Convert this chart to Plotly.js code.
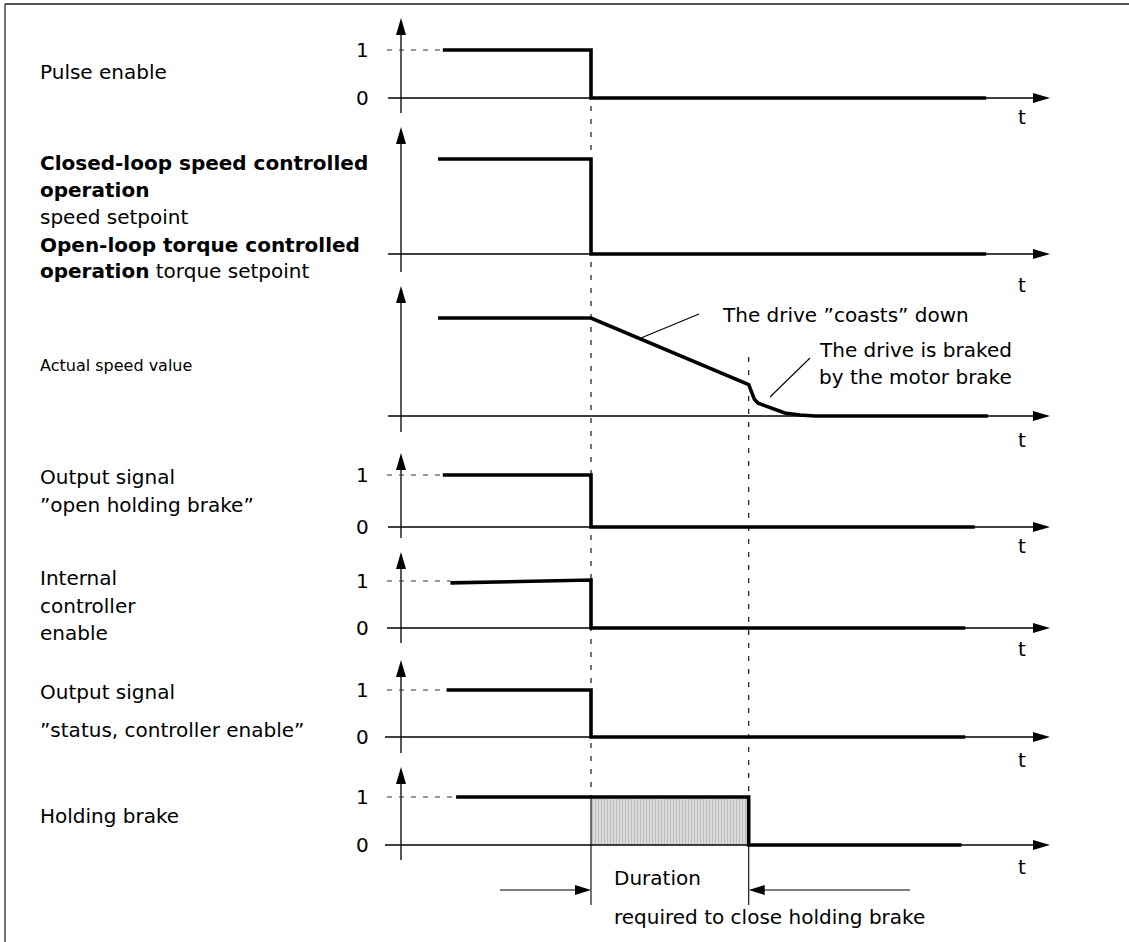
<!DOCTYPE html>
<html><head><meta charset="utf-8">
<script src="https://cdn.plot.ly/plotly-3.0.1.min.js"></script>
<style>html,body{margin:0;padding:0;background:#fff}#chart{width:1129px;height:942px}</style>
</head><body><div id="chart"></div>
<script>
// ---------------- data (time in arbitrary units, levels 0/1) ----------------
const pulseT      = [22, 100, 100, 308];
const pulseV      = [1, 1, 0, 0];
const setpointT   = [19.5, 100, 100, 308];
const setpointV   = [1, 1, 0, 0];
const speedT      = [19.5, 100, 183, 184.5, 186, 188, 192, 196, 202, 210, 218, 309];
const speedV      = [1, 1, 0.32, 0.24, 0.17, 0.13, 0.10, 0.07, 0.03, 0.01, 0, 0];
const openBrakeT  = [22, 100, 100, 302];
const openBrakeV  = [1, 1, 0, 0];
const ctrlEnableT = [26, 100, 100, 297];
const ctrlEnableV = [0.96, 1.02, 0, 0];
const statusT     = [24, 100, 100, 297];
const statusV     = [1, 1, 0, 0];
const holdingT    = [29, 183, 183, 295];
const holdingV    = [1, 1, 0, 0];
const pulseOffT   = 100;   // pulse enable removed
const brakeClosedT = 183;  // holding brake closed
const levelLabels = ['0', '1'];
const axisLabel   = 't';

const leftLabels = [
  'Pulse enable',
  '<b>Closed-loop speed controlled</b>',
  '<b>operation</b>',
  'speed setpoint',
  '<b>Open-loop torque controlled</b>',
  '<b>operation</b> torque setpoint',
  'Actual speed value',
  'Output signal',
  '\u201Dopen holding brake\u201D',
  'Internal',
  'controller',
  'enable',
  'Output signal',
  '\u201Dstatus, controller enable\u201D',
  'Holding brake'
];
const coastText  = 'The drive \u201Dcoasts\u201D down';
const brakedText = ['The drive is braked', 'by the motor brake'];
const durationText = ['Duration', 'required to close holding brake'];

// ---------------- layout geometry (pixels) ----------------
const W = 1129, H = 942, X0 = 401, PXT = 1.9;
const tOf = px => (px - X0) / PXT;
const pxOfT = t => X0 + t * PXT;
const yP = px => 1 - px / H;
const xP = px => px / W;
const FONT = 'DejaVu Sans, Arial, sans-serif';
const FS = 20;

const panels = [
  {band:[4,120],   l0:98,  l1:50,  tip:18,  axB:113, zs:388, tY:117, ticks:true},
  {band:[120,280], l0:254, l1:159, tip:127, axB:272, zs:388, tY:285, ticks:false},
  {band:[280,448], l0:416, l1:318, tip:286, axB:432, zs:388, tY:440, ticks:false},
  {band:[448,548], l0:527, l1:475, tip:453, axB:538, zs:388, tY:546, ticks:true},
  {band:[548,657], l0:628, l1:581, tip:552, axB:643, zs:387, tY:649, ticks:true},
  {band:[657,764], l0:737, l1:690, tip:660, axB:753, zs:385, tY:760, ticks:true},
  {band:[764,942], l0:845, l1:797, tip:767, axB:860, zs:385, tY:867, ticks:true}
];
const series = [
  [pulseT, pulseV], [setpointT, setpointV], [speedT, speedV],
  [openBrakeT, openBrakeV], [ctrlEnableT, ctrlEnableV], [statusT, statusV], [holdingT, holdingV]
];
const labelY = [72, 163, 190, 217, 245, 271, 365, 477, 505, 578, 606, 633, 692, 730, 816];
const labelSize = [FS, FS, FS, FS, FS, FS, 16, FS, FS, FS, FS, FS, FS, FS, FS];

const layout = {
  width: W, height: H, margin: {l:0, r:0, t:0, b:0},
  paper_bgcolor: '#fff', plot_bgcolor: 'rgba(0,0,0,0)', showlegend: false,
  xaxis: {domain:[0,1], range:[tOf(0), tOf(W)], visible:false, fixedrange:true, anchor:'y'},
  shapes: [], annotations: []
};
const traces = [];
const AX = {color:'#000', width:1.3};

panels.forEach((p, i) => {
  const yName = i === 0 ? 'y' : 'y' + (i + 1);
  const key = i === 0 ? 'yaxis' : 'yaxis' + (i + 1);
  const s = p.l0 - p.l1;
  const yv = px => (p.l0 - px) / s;
  layout[key] = {domain:[yP(p.band[1]), yP(p.band[0])], range:[yv(p.band[1]), yv(p.band[0])],
                 visible:false, fixedrange:true, anchor:'x'};
  const [T, V] = series[i];
  if (i === 6) {
    // shaded interval while the brake is closing
    traces.push({x:[pulseOffT, pulseOffT, brakeClosedT, brakeClosedT], y:[0, 1, 1, 0],
      xaxis:'x', yaxis:yName, mode:'lines', fill:'toself', fillcolor:'#d6d6d6',
      fillpattern:{shape:'|', fgcolor:'#bdbdbd', bgcolor:'#dadada', size:3, solidity:0.35},
      line:{width:0}, hoverinfo:'skip'});
  }
  traces.push({x:T, y:V, xaxis:'x', yaxis:yName, mode:'lines',
    line:{color:'#000', width:3.6}, hoverinfo:'skip'});

  // vertical axis with arrow
  layout.shapes.push({type:'line', xref:'x', yref:yName, x0:0, x1:0, y0:yv(p.axB), y1:yv(p.tip + 12), line:AX});
  layout.shapes.push({type:'path', xref:'x', yref:yName, fillcolor:'#000', line:{width:0},
    path:`M ${tOf(X0)},${yv(p.tip)} L ${tOf(X0 - 5)},${yv(p.tip + 17)} L ${tOf(X0 + 5)},${yv(p.tip + 17)} Z`});
  // time axis with arrow
  layout.shapes.push({type:'line', xref:'x', yref:yName, x0:tOf(p.zs), x1:tOf(1040), y0:0, y1:0, line:AX});
  layout.shapes.push({type:'path', xref:'x', yref:yName, fillcolor:'#000', line:{width:0},
    path:`M ${tOf(1050)},0 L ${tOf(1033)},${yv(p.l0 - 5)} L ${tOf(1033)},${yv(p.l0 + 5)} Z`});
  layout.annotations.push({xref:'paper', yref:'paper', x:xP(1022), y:yP(p.tY), text:axisLabel,
    showarrow:false, xanchor:'center', yanchor:'middle', font:{family:FONT, size:FS, color:'#000'}});
  if (p.ticks) {
    layout.shapes.push({type:'line', xref:'x', yref:yName, x0:tOf(387), x1:T[0], y0:1, y1:1,
      line:{color:'#333', width:1.2, dash:'5px,7px'}});
    [0, 1].forEach(v => {
      layout.annotations.push({xref:'paper', yref:'paper', x:xP(362), y:yP(v ? p.l1 : p.l0),
        text:levelLabels[v], showarrow:false, xanchor:'center', yanchor:'middle',
        font:{family:FONT, size:FS, color:'#000'}});
    });
  }
});

// left description labels
leftLabels.forEach((txt, k) => {
  layout.annotations.push({xref:'paper', yref:'paper', x:xP(38), y:yP(labelY[k]), text:txt,
    showarrow:false, xanchor:'left', yanchor:'middle', font:{family:FONT, size:labelSize[k], color:'#000'}});
});

// event lines
const DASH = {color:'#000', width:1.1, dash:'5px,8px'};
const SOLID = {color:'#000', width:1.1};
layout.shapes.push({type:'line', xref:'paper', yref:'paper', x0:xP(pxOfT(pulseOffT)), x1:xP(pxOfT(pulseOffT)), y0:yP(106), y1:yP(797), line:DASH});
layout.shapes.push({type:'line', xref:'paper', yref:'paper', x0:xP(pxOfT(pulseOffT)), x1:xP(pxOfT(pulseOffT)), y0:yP(797), y1:yP(905), line:SOLID});
layout.shapes.push({type:'line', xref:'paper', yref:'paper', x0:xP(pxOfT(brakeClosedT)), x1:xP(pxOfT(brakeClosedT)), y0:yP(357), y1:yP(797), line:DASH});
layout.shapes.push({type:'line', xref:'paper', yref:'paper', x0:xP(pxOfT(brakeClosedT)), x1:xP(pxOfT(brakeClosedT)), y0:yP(845), y1:yP(905), line:SOLID});

// duration arrows
const DY = 890;
const xa = pxOfT(pulseOffT), xb = pxOfT(brakeClosedT);
layout.shapes.push({type:'line', xref:'paper', yref:'paper', x0:xP(500), x1:xP(xa - 10), y0:yP(DY), y1:yP(DY), line:SOLID});
layout.shapes.push({type:'path', xref:'paper', yref:'paper', fillcolor:'#000', line:{width:0},
  path:`M ${xP(xa)},${yP(DY)} L ${xP(xa - 16)},${yP(DY - 5)} L ${xP(xa - 16)},${yP(DY + 5)} Z`});
layout.shapes.push({type:'line', xref:'paper', yref:'paper', x0:xP(xb + 10), x1:xP(910), y0:yP(DY), y1:yP(DY), line:SOLID});
layout.shapes.push({type:'path', xref:'paper', yref:'paper', fillcolor:'#000', line:{width:0},
  path:`M ${xP(xb)},${yP(DY)} L ${xP(xb + 16)},${yP(DY - 5)} L ${xP(xb + 16)},${yP(DY + 5)} Z`});
layout.annotations.push({xref:'paper', yref:'paper', x:xP(612), y:yP(878), text:durationText[0], showarrow:false,
  xanchor:'left', yanchor:'middle', font:{family:FONT, size:FS, color:'#000'}});
layout.annotations.push({xref:'paper', yref:'paper', x:xP(612), y:yP(917), text:durationText[1], showarrow:false,
  xanchor:'left', yanchor:'middle', font:{family:FONT, size:FS, color:'#000'}});

// speed annotations with leader lines
const LEAD = {color:'#000', width:1.1};
layout.shapes.push({type:'line', xref:'paper', yref:'paper', x0:xP(641), y0:yP(338), x1:xP(699), y1:yP(314), line:LEAD});
layout.shapes.push({type:'line', xref:'paper', yref:'paper', x0:xP(770), y0:yP(397), x1:xP(810), y1:yP(358), line:LEAD});
layout.annotations.push({xref:'paper', yref:'paper', x:xP(720), y:yP(315), text:coastText, showarrow:false,
  xanchor:'left', yanchor:'middle', font:{family:FONT, size:FS, color:'#000'}});
layout.annotations.push({xref:'paper', yref:'paper', x:xP(817), y:yP(350), text:brakedText[0], showarrow:false,
  xanchor:'left', yanchor:'middle', font:{family:FONT, size:FS, color:'#000'}});
layout.annotations.push({xref:'paper', yref:'paper', x:xP(817), y:yP(377), text:brakedText[1], showarrow:false,
  xanchor:'left', yanchor:'middle', font:{family:FONT, size:FS, color:'#000'}});

// frame
layout.shapes.push({type:'line', xref:'paper', yref:'paper', x0:xP(5), x1:1, y0:yP(4), y1:yP(4), line:{color:'#555', width:2}});
layout.shapes.push({type:'line', xref:'paper', yref:'paper', x0:xP(5), x1:xP(5), y0:yP(4), y1:0, line:{color:'#444', width:1.5}});

Plotly.newPlot('chart', traces, layout, {staticPlot:true, displayModeBar:false});
</script></body></html>
